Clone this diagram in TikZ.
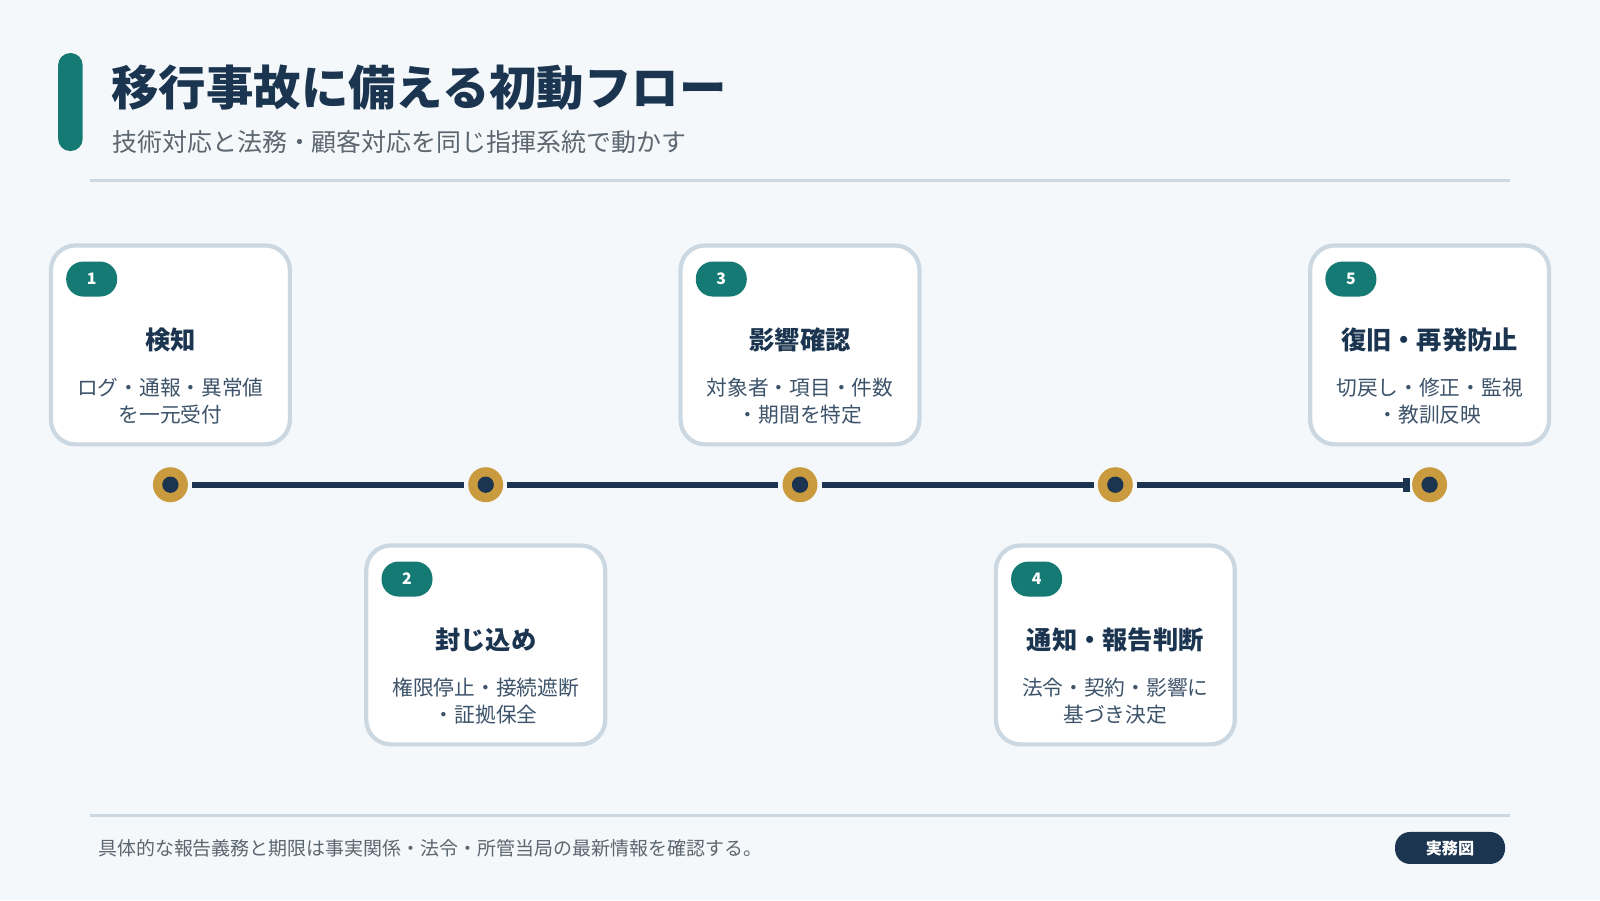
\documentclass[tikz,border=0pt]{standalone}
\usepackage{fontspec}
\setmainfont{Noto Sans CJK JP}
\usetikzlibrary{arrows.meta,positioning,calc}
\definecolor{navy}{HTML}{1B3550}
\definecolor{teal}{HTML}{157A73}
\definecolor{gold}{HTML}{C99A3E}
\definecolor{frame}{HTML}{CBD8E2}
\definecolor{bg}{HTML}{F5F8FA}
\definecolor{greytext}{HTML}{5C6670}
\begin{document}
\begin{tikzpicture}[x=0.010204cm,y=-0.010204cm,
    card/.style={draw=frame,line width=1.2pt,fill=white,rounded corners=7pt,minimum width=2.39cm,minimum height=1.99cm},
    badge/.style={fill=teal,text=white,rounded corners=1.7mm,minimum width=0.51cm,minimum height=0.35cm,inner sep=0pt,font=\fontsize{4.5}{5}\selectfont\bfseries},
    ctitle/.style={text=navy,font=\fontsize{7.2}{8}\selectfont\bfseries},
    cbody/.style={text=navy!85,align=center,font=\fontsize{5.9}{7.6}\selectfont},
    dot/.style={circle,fill=gold,minimum size=0.35cm,inner sep=0pt},
    link/.style={navy,line width=1.6pt},
    ]
    \fill[bg] (0,0) rectangle (1568,882);
    % header
    \fill[teal,rounded corners=1.2mm] (57,52) rectangle (81,148);
    \node[anchor=west,text=navy,font=\fontsize{13.5}{14}\selectfont\bfseries] (title) at (97,86) {移行事故に備える初動フロー};
    \node[anchor=west,text=greytext,font=\fontsize{7.1}{8}\selectfont] (subtitle) at (98,139) {技術対応と法務・顧客対応を同じ指揮系統で動かす};
    \draw[frame,line width=0.9pt] (88,177) -- (1480,177);
    % steps
    \foreach \i/\x/\y/\t/\a/\b in {
        1/167/338/検知/ログ・通報・異常値/を一元受付,
        2/476/632/封じ込め/権限停止・接続遮断/・証拠保全,
        3/784/338/影響確認/対象者・項目・件数/・期間を特定,
        4/1093/632/通知・報告判断/法令・契約・影響に/基づき決定,
        5/1401/338/復旧・再発防止/切戻し・修正・監視/・教訓反映}{
        \node[card] (card\i) at (\x,\y) {};
        \node[badge] (badge\i) at ($(card\i.north west)+(42,35)$) {\i};
        \node[ctitle] (head\i) at (\x,\y-5) {\t};
        \node[cbody] (body\i) at (\x,\y+55) {\a\\\b};
        \node[dot] (dot\i) at (\x,475) {};
        \fill[navy] (dot\i) circle (8);
    }
    \foreach \i/\j in {1/2,2/3,3/4}{
        \draw[link] ([xshift=1pt]dot\i.east) -- ([xshift=-1pt]dot\j.west);
    }
    \draw[link,-{Bracket[width=4pt,length=1pt]}] ([xshift=1pt]dot4.east) -- ([xshift=-0.5pt]dot5.west);
    % footer
    \draw[frame,line width=0.9pt] (88,799) -- (1480,799);
    \node[anchor=west,text=greytext,font=\fontsize{5.4}{6}\selectfont] (note) at (84,831) {具体的な報告義務と期限は事実関係・法令・所管当局の最新情報を確認する。};
    \node[fill=navy,text=white,rounded corners=1.5mm,minimum width=1.1cm,minimum height=0.32cm,inner sep=0pt,font=\fontsize{4.6}{5}\selectfont\bfseries] (tag) at (1421,831) {実務図};
\end{tikzpicture}
\end{document}
